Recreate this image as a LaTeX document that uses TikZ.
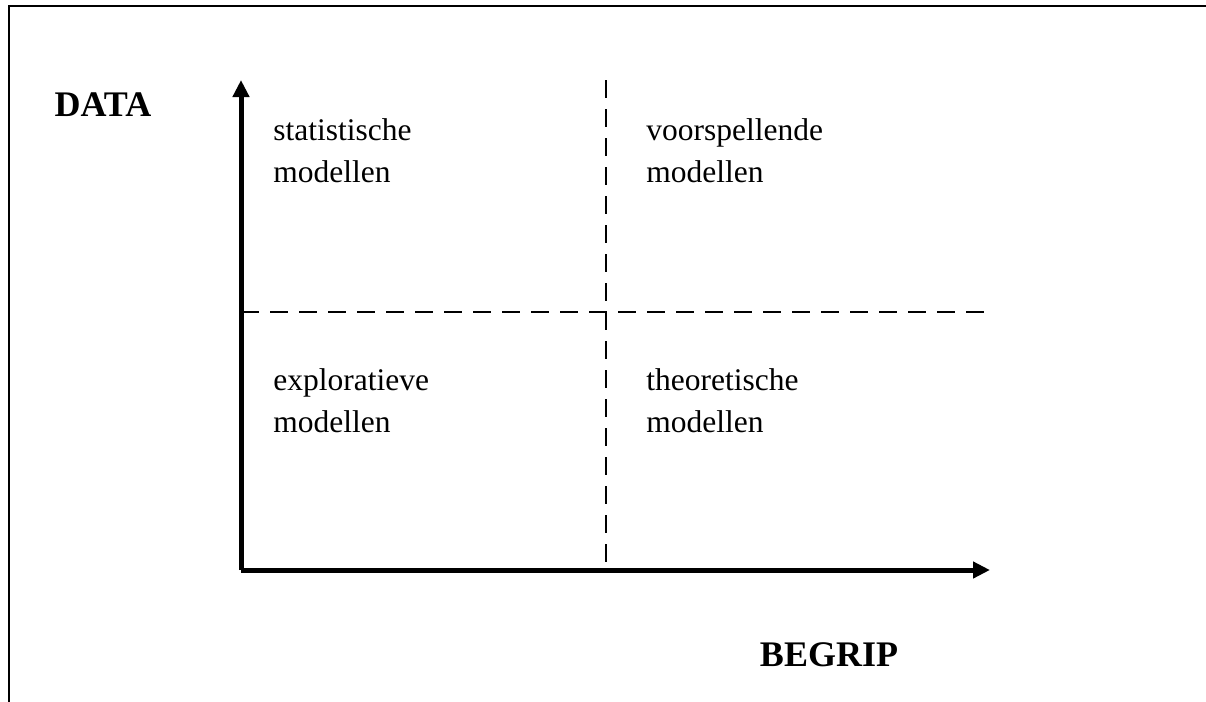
\documentclass[tikz,border=0pt]{standalone}
\usepackage{fontspec}
\setmainfont{Liberation Serif}
\usetikzlibrary{arrows.meta}

\tikzset{
  axis_line/.style={line width=2.5pt,-{Triangle[length=8.5pt,width=8pt]}},
  quad_line/.style={line width=1pt,dash pattern=on 9pt off 5.5pt},
  quad_label/.style={anchor=base west,align=left,inner sep=0pt,
    font=\fontsize{15.75}{21}\selectfont},
  axis_label/.style={inner sep=0pt,font=\fontsize{18}{21}\selectfont\bfseries},
}

\begin{document}
\begin{tikzpicture}[
  x=0.5pt, y=-0.5pt,
  frame line/.style={line width=1pt},
  ]
  \useasboundingbox (0,0) rectangle (1206,702);

  % frame
  \draw[frame line] (9,702) coordinate (fbot) -- (9,6) coordinate (fcorner)
       -- (1206,6) coordinate (fright);

  % axes
  \coordinate (origin) at (241,570);
  \coordinate (ytip) at (241,80);
  \coordinate (xtip) at (990,570);
  \draw[axis_line] (origin) -- (ytip);
  \draw[axis_line] (origin) -- (xtip);

  % quadrant borders
  \coordinate (hmid) at (241,312);
  \coordinate (hend) at (990,312);
  \coordinate (vtop) at (606,80);
  \coordinate (vbot) at (606,570);
  \draw[quad_line] (hmid) -- (hend);
  \draw[quad_line] (vtop) -- (vbot);

  \node[axis_label] (data) at (103,105) {DATA};
  \node[axis_label] (begrip) at (829,655) {BEGRIP};

  \node[quad_label] (stat) at (273,182) {statistische\\modellen};
  \node[quad_label] (voor) at (646,182) {voorspellende\\modellen};
  \node[quad_label] (expl) at (273,432) {exploratieve\\modellen};
  \node[quad_label] (theo) at (646,432) {theoretische\\modellen};
\end{tikzpicture}
\end{document}
